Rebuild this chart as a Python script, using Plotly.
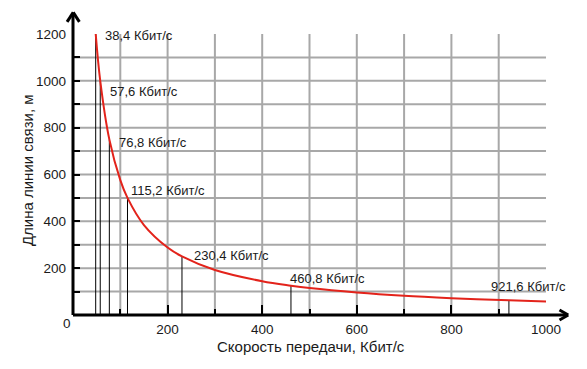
import plotly.graph_objects as go

# ---- data ----
curve_speed = [48, 57.6, 76.8, 100, 115.2, 150, 200, 230.4, 300, 400, 460.8, 500, 600, 700, 800, 921.6, 1000]
curve_length = [1200, 1000, 750, 576, 500, 384, 288, 250, 192, 144, 125, 115, 96, 82, 72, 62.5, 57.6]

marker_x = [48, 57.6, 76.8, 115.2, 230.4, 460.8, 921.6]
marker_len = [1200, 1000, 750, 500, 250, 125, 62.5]
marker_labels = ["38,4 Кбит/с", "57,6 Кбит/с", "76,8 Кбит/с", "115,2 Кбит/с",
                 "230,4 Кбит/с", "460,8 Кбит/с", "921,6 Кбит/с"]
label_x = [64, 75, 94, 119, 252, 455, 880]
label_y = [1193, 953, 735, 530, 256, 154, 120]

x_ticks = [200, 400, 600, 800, 1000]
x_minor = [100, 300, 500, 700, 900]
y_ticks = [200, 400, 600, 800, 1000, 1200]
y_minor = [100, 300, 500, 700, 900, 1100]
grid_x = [100, 200, 300, 400, 500, 600, 700, 800, 900]
grid_y = [100, 200, 300, 400, 500, 600, 700, 800, 900, 1000, 1100]

FONT = "Liberation Sans, Arial, sans-serif"
TXT = "#1a1a1a"
GRID = "#a8a8a8"

fig = go.Figure()

# vertical marker lines from axis to curve
vx, vy = [], []
for x, h in zip(marker_x, marker_len):
    vx += [x, x, None]
    vy += [0, h, None]
fig.add_trace(go.Scatter(x=vx, y=vy, mode="lines",
                         line=dict(color="black", width=1), hoverinfo="skip"))

fig.add_trace(go.Scatter(x=curve_speed, y=curve_length, mode="lines",
                         line=dict(color="#e3231b", width=2, shape="spline", smoothing=1.0)))

shapes = []
for gx in grid_x:
    shapes.append(dict(type="line", xref="x", yref="y", x0=gx, x1=gx, y0=0, y1=1200,
                       line=dict(color=GRID, width=2), layer="below"))
for gy in grid_y:
    shapes.append(dict(type="line", xref="x", yref="y", x0=0, x1=1000, y0=gy, y1=gy,
                       line=dict(color=GRID, width=2), layer="below"))

# axis lines with open arrow heads (paper coordinates)
ax_line = dict(color="black", width=3)
shapes += [
    dict(type="line", xref="paper", yref="paper", x0=0, y0=0, x1=0, y1=1.075, line=ax_line),
    dict(type="line", xref="paper", yref="paper", x0=-0.0125, y0=1.043, x1=0.0005, y1=1.077, line=ax_line),
    dict(type="line", xref="paper", yref="paper", x0=0.0135, y0=1.043, x1=0.0005, y1=1.077, line=ax_line),
    dict(type="line", xref="paper", yref="paper", x0=0, y0=0, x1=1.046, y1=0, line=ax_line),
    dict(type="line", xref="paper", yref="paper", x0=1.0285, y0=0.018, x1=1.047, y1=0, line=ax_line),
    dict(type="line", xref="paper", yref="paper", x0=1.0285, y0=-0.018, x1=1.047, y1=0, line=ax_line),
]

annotations = []
for t, x, y in zip(marker_labels, label_x, label_y):
    annotations.append(dict(x=x, y=y, xref="x", yref="y", text=t, showarrow=False,
                            xanchor="left", yanchor="middle",
                            font=dict(family=FONT, size=13, color=TXT)))
annotations += [
    dict(x=-0.0127, y=-0.0285, xref="paper", yref="paper", text="0", showarrow=False,
         xanchor="center", yanchor="middle", font=dict(family=FONT, size=13.5, color=TXT)),
    dict(x=0.503, y=-0.112, xref="paper", yref="paper", text="Скорость передачи, Кбит/с",
         showarrow=False, xanchor="center", yanchor="middle",
         font=dict(family=FONT, size=15, color=TXT)),
    dict(x=-0.097, y=0.516, xref="paper", yref="paper", text="Длина линии связи, м",
         showarrow=False, xanchor="center", yanchor="middle", textangle=-90,
         font=dict(family=FONT, size=15, color=TXT)),
]

fig.update_layout(
    width=587, height=369,
    margin=dict(l=73, r=41, t=34, b=54),
    paper_bgcolor="white", plot_bgcolor="white",
    showlegend=False,
    shapes=shapes, annotations=annotations,
    xaxis=dict(range=[0, 1000], showgrid=False, zeroline=False, showline=False,
               tickmode="array", tickvals=x_ticks,
               ticks="inside", ticklen=10, tickwidth=2, tickcolor="black",
               minor=dict(tickmode="array", tickvals=x_minor, ticks="inside",
                          ticklen=6, tickwidth=2, tickcolor="black", showgrid=False),
               tickfont=dict(family=FONT, size=13.5, color=TXT), ticklabelstandoff=4),
    yaxis=dict(range=[0, 1200], showgrid=False, zeroline=False, showline=False,
               tickmode="array", tickvals=y_ticks,
               ticks="inside", ticklen=7, tickwidth=2, tickcolor="black",
               minor=dict(tickmode="array", tickvals=y_minor, ticks="inside",
                          ticklen=7, tickwidth=2, tickcolor="black", showgrid=False),
               tickfont=dict(family=FONT, size=13.5, color=TXT), ticklabelstandoff=6),
)

fig.write_html("out.html", config={"displayModeBar": False},
               post_script="document.body.style.margin='0';")
